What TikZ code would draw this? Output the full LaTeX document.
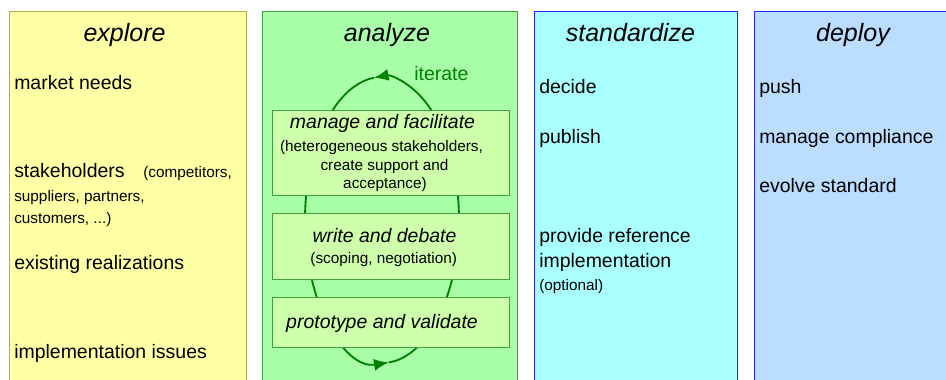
\documentclass[tikz,border=0pt]{standalone}
\usepackage{fontspec}
\setmainfont{Liberation Sans}
\usetikzlibrary{fit,arrows.meta}

\definecolor{explorefill}{RGB}{255,255,166}
\definecolor{exploreline}{RGB}{176,176,64}
\definecolor{analyzefill}{RGB}{168,255,168}
\definecolor{analyzeline}{RGB}{64,160,64}
\definecolor{taskfill}{RGB}{206,255,170}
\definecolor{standardfill}{RGB}{170,255,255}
\definecolor{deployfill}{RGB}{187,221,255}
\definecolor{phaseblue}{RGB}{40,40,255}
\definecolor{loopgreen}{RGB}{0,128,0}

\begin{document}
\begin{tikzpicture}[x=0.75pt,y=-0.75pt]
\tikzstyle{phase}=[draw,inner sep=0pt,line width=0.75pt]
\tikzstyle{task}=[draw=analyzeline,fill=taskfill,inner sep=0pt,line width=0.75pt]
\tikzstyle{title}=[anchor=base,inner sep=0pt,font=\fontsize{18.75}{22}\selectfont\itshape]
\tikzstyle{item}=[anchor=base west,inner sep=0pt,font=\fontsize{14.6}{17}\selectfont]
\tikzstyle{note}=[anchor=base west,inner sep=0pt,font=\fontsize{11.5}{14}\selectfont]
\tikzstyle{taskhead}=[anchor=base,inner sep=0pt,font=\fontsize{14.6}{17}\selectfont\itshape]
\tikzstyle{tasknote}=[anchor=base,inner sep=0pt,font=\fontsize{11.5}{14}\selectfont]
\tikzstyle{iterline}=[draw=loopgreen,line width=1.4pt]
\tikzstyle{iterhead}=[-{Latex[length=11pt,width=9pt]}]
\useasboundingbox (0,0) rectangle (946,379);
\clip (0,0) rectangle (946,379);

% the four phases
\node[phase,draw=exploreline,fill=explorefill,fit={(9,11) (246,400)}] (explore) {};
\node[phase,draw=analyzeline,fill=analyzefill,fit={(262,11) (517,400)}] (analyze) {};
\node[phase,draw=phaseblue,fill=standardfill,fit={(534,11) (737,400)}] (standardize) {};
\node[phase,draw=phaseblue,fill=deployfill,fit={(754,11) (960,400)}] (deploy) {};

\node[title] (exploreT) at (124.5,41.5) {explore};
\node[title] (analyzeT) at (387,41.5) {analyze};
\node[title] (standardizeT) at (630.5,41.5) {standardize};
\node[title] (deployT) at (853,41.5) {deploy};

% explore
\node[item] (needs) at (14,89) {market needs};
\node[item] (stake) at (14,177) {stakeholders};
\node[note] (stakeA) at (143,177) {(competitors,};
\node[note] (stakeB) at (14,201) {suppliers, partners,};
\node[note] (stakeC) at (14,223) {customers, ...)};
\node[item] (real) at (14,269) {existing realizations};
\node[item] (issues) at (14,358) {implementation issues};

% analyze: iteration loop behind the tasks
\coordinate (loopc) at (382,220);
\draw[iterline,iterhead] (loopc) ++(0:77 and 143) arc[start angle=0,end angle=-96,x radius=77,y radius=143];
\draw[iterline,iterhead] (loopc) ++(-96:77 and 143) arc[start angle=-96,end angle=-275,x radius=77,y radius=143];
\draw[iterline] (loopc) ++(-275:77 and 143) arc[start angle=-275,end angle=-360,x radius=77,y radius=143];
\node[item,text=loopgreen] (iterT) at (414,80) {iterate};

\node[task,fit={(272,110) (509,195)}] (manage) {};
\node[task,fit={(272,213) (509,279)}] (write) {};
\node[task,fit={(272,297) (509,347)}] (proto) {};

\node[taskhead] (manageA) at (382.5,128.3) {manage and facilitate};
\node[tasknote] (manageB) at (381.5,151.7) {(heterogeneous stakeholders,};
\node[tasknote] (manageC) at (384.5,170) {create support and};
\node[tasknote] (manageD) at (385,188.5) {acceptance)};
\node[taskhead] (writeA) at (384.5,242.3) {write and debate};
\node[tasknote] (writeB) at (383.7,263.3) {(scoping, negotiation)};
\node[taskhead] (protoA) at (382,328.3) {prototype and validate};

% standardize
\node[item] (decide) at (539,93) {decide};
\node[item] (publish) at (539,143) {publish};
\node[item] (provideA) at (539,242) {provide reference};
\node[item] (provideB) at (539,267) {implementation};
\node[note] (provideC) at (539,290) {(optional)};

% deploy
\node[item] (push) at (759,93) {push};
\node[item] (comply) at (759,143) {manage compliance};
\node[item] (evolve) at (759,192) {evolve standard};
\end{tikzpicture}
\end{document}
